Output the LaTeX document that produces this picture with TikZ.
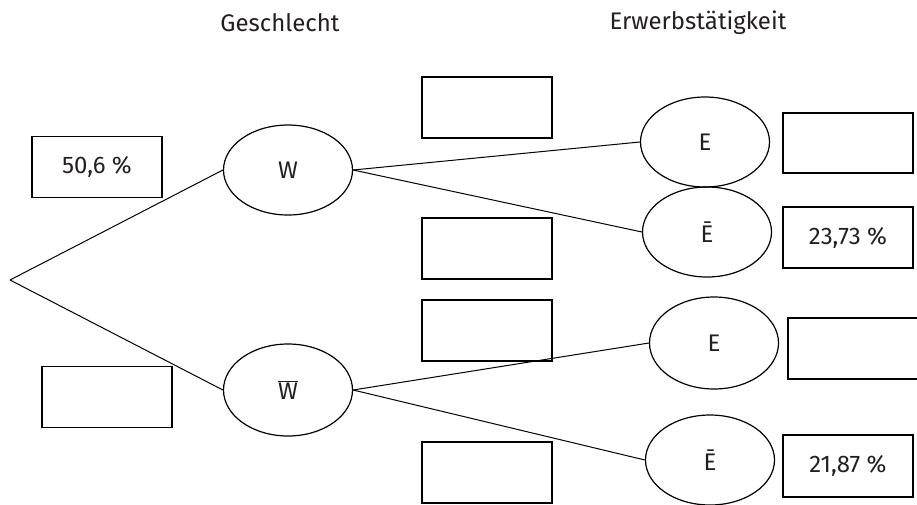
\documentclass[tikz,border=0pt]{standalone}
\usepackage{fontspec}
\setmainfont{Fira Sans}
\usepackage{tikz}
\usetikzlibrary{shapes.geometric}

\definecolor{txtgray}{RGB}{35,31,32}

\begin{document}
\begin{tikzpicture}[x=1pt, y=-1pt]
        \tikzstyle{every node}=[font=\fontsize{24}{28}\selectfont, text=txtgray, inner sep=0pt]
        \tikzstyle{event}=[draw, ellipse, line width=1.2pt, minimum width=129pt, minimum height=90pt]
        \tikzstyle{probbox}=[draw, line width=1.7pt, minimum width=130pt, minimum height=61pt]
        
        \useasboundingbox (0,0) rectangle (917,504);
        
        % headings
        \node (gender) at (280,23) {Geschlecht};
        \node (work)   at (698,23) {Erwerbstätigkeit};
        
        % first stage
        \coordinate (root) at (10,280);
        \node (W)    [event] at (288,170) {W};
        \node (Wbar) [event, minimum height=92pt] at (288,390) {$\overline{\mbox{W}}$};
        \node (pW)    [probbox] at (97,167)  {50,6 \%};
        \node (pWbar) [probbox] at (107,397) {};
        
        % second stage
        \node (E1)    [event] at (705,142) {E};
        \node (Ebar1) [event] at (707,232) {Ē};
        \node (E2)    [event, minimum height=92pt] at (714,343) {E};
        \node (Ebar2) [event] at (710,460) {Ē};
        
        \node (pE1)    [probbox] at (487,107.5) {};
        \node (pEbar1) [probbox] at (487,248.5) {};
        \node (pE2)    [probbox] at (487,330.5) {};
        \node (pEbar2) [probbox] at (487,472.5) {};
        
        % path probabilities
        \node (q1) [probbox, minimum height=60pt] at (848,143)   {};
        \node (q2) [probbox] at (848,237.5) {23,73 \%};
        \node (q3) [probbox] at (853,348.5) {};
        \node (q4) [probbox, minimum height=62pt] at (848,466)   {21,87 \%};
        
        \path[draw, line width=1pt]
            (root) edge (W.west)
            (root) edge (Wbar.west)
            (W.east) edge (E1.west)
            (W.east) edge (Ebar1.west)
            (Wbar.east) edge (E2.west)
            (Wbar.east) edge (Ebar2.west);
        
    \end{tikzpicture}
\end{document}
